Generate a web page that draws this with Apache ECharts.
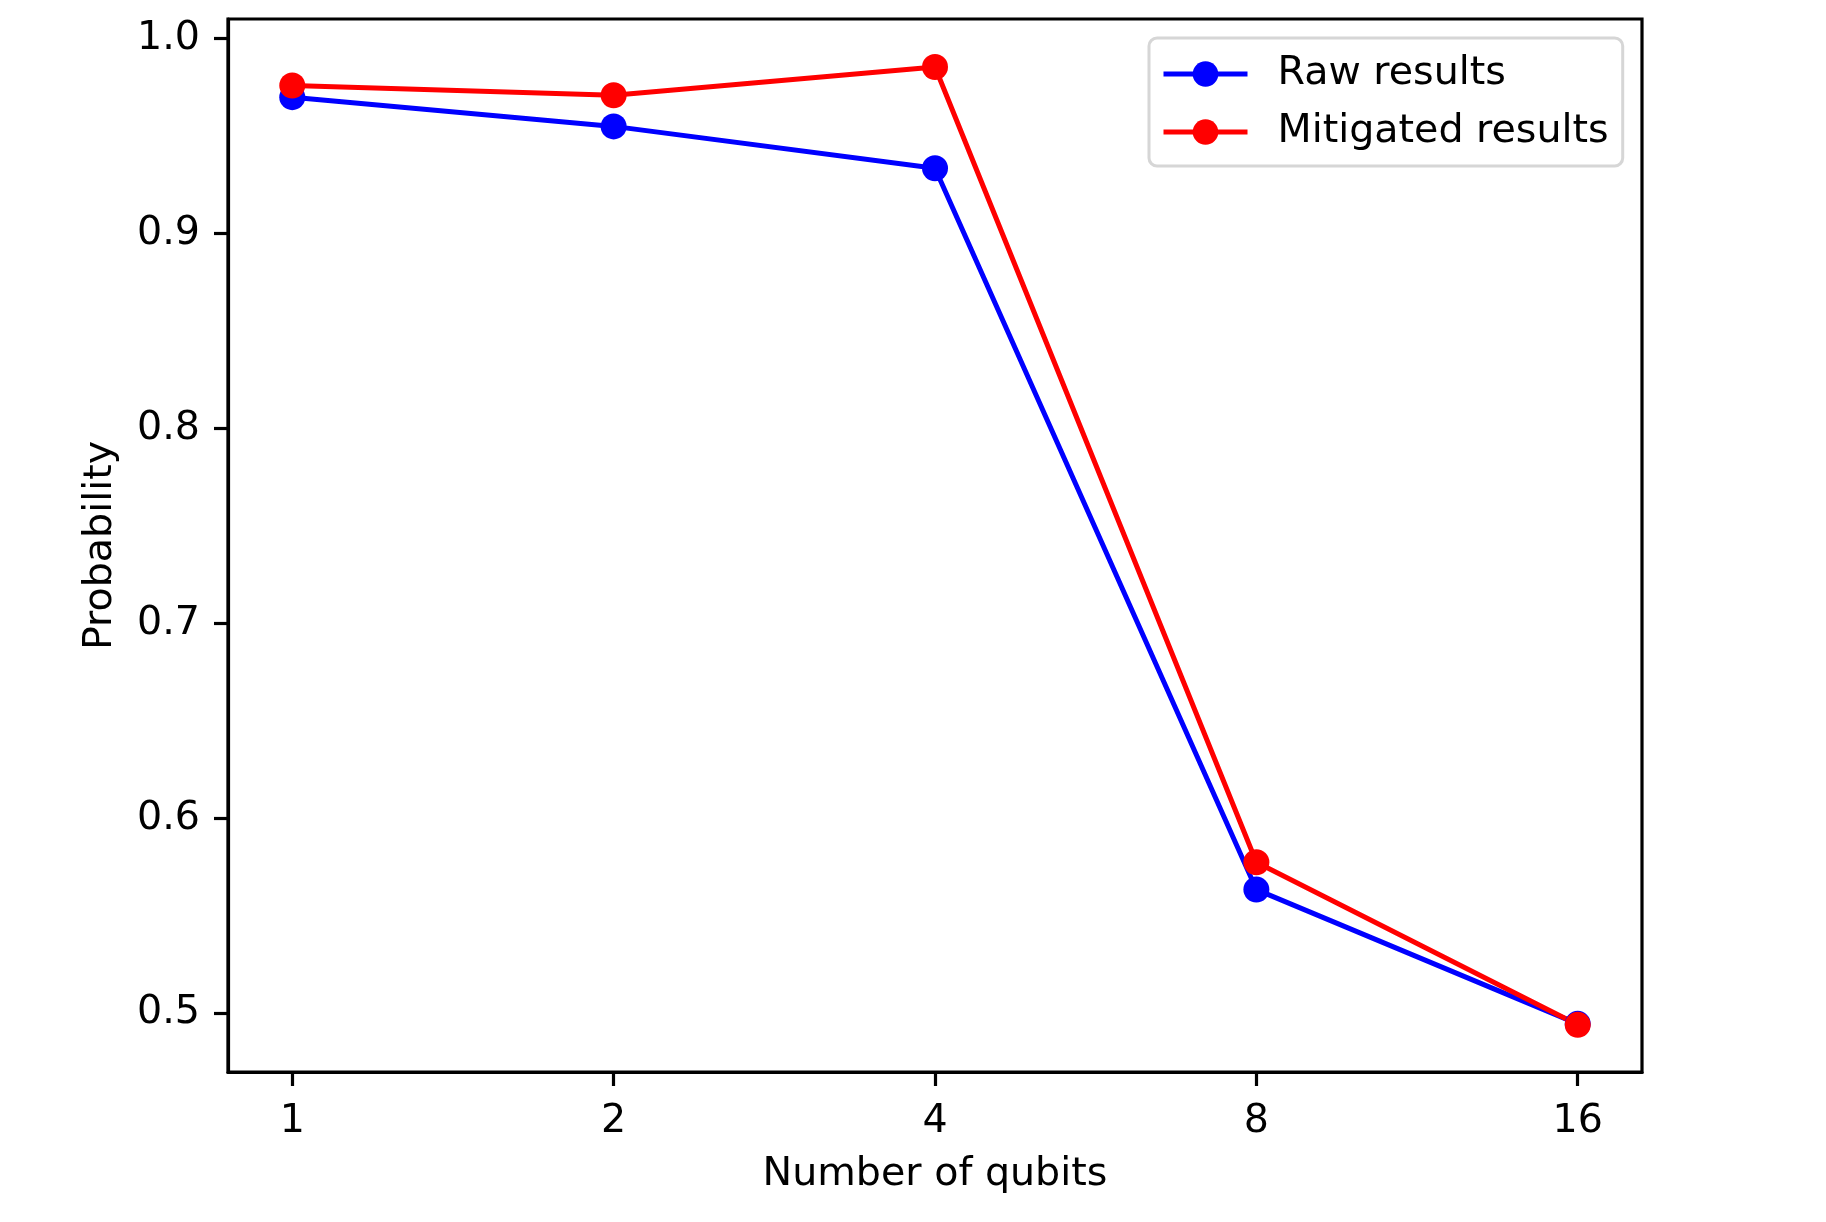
<!DOCTYPE html>
<html>
<head>
<meta charset="utf-8">
<script src="https://cdn.jsdelivr.net/npm/echarts@6/dist/echarts.min.js"></script>
<style>
html,body{margin:0;padding:0;background:#fff;}
#chart{width:1826px;height:1222px;}
</style>
</head>
<body>
<div id="chart"></div>
<script>
const categories = ['1', '2', '4', '8', '16'];
const rawResults = [0.970, 0.955, 0.9335, 0.5634, 0.4945];
const mitigatedResults = [0.976, 0.971, 0.9855, 0.5774, 0.494];
const yTicks = [0.5, 0.6, 0.7, 0.8, 0.9, 1.0];
const seriesNames = ['Raw results', 'Mitigated results'];

const FONT = 'DejaVu Sans';
const FS = 39.6;
const xIdx = categories.map((c, i) => i);
const toPairs = arr => arr.map((v, i) => [i, v]);

const chart = echarts.init(document.getElementById('chart'), null, {renderer: 'canvas'});
chart.setOption({
  animation: false,
  backgroundColor: '#ffffff',
  grid: {
    left: 228, right: 184, top: 19, bottom: 150,
    show: true, borderColor: '#000', borderWidth: 3.2, backgroundColor: 'transparent'
  },
  xAxis: {
    type: 'value',
    min: -0.2, max: 4.2,
    name: 'Number of qubits',
    nameLocation: 'middle',
    nameGap: 83,
    nameTextStyle: {fontFamily: FONT, fontSize: FS, color: '#000'},
    axisLine: {show: true, onZero: false, lineStyle: {color: '#000', width: 3.2}},
    axisTick: {show: true, length: 14, lineStyle: {color: '#000', width: 3.2}, customValues: xIdx},
    axisLabel: {
      fontFamily: FONT, fontSize: FS, color: '#000', margin: 30,
      customValues: xIdx,
      formatter: v => categories[Math.round(v)]
    },
    splitLine: {show: false}
  },
  yAxis: {
    type: 'value',
    min: 0.4698, max: 1.0101,
    name: 'Probability',
    nameLocation: 'middle',
    nameGap: 107,
    nameTextStyle: {fontFamily: FONT, fontSize: FS, color: '#000'},
    axisLine: {show: true, onZero: false, lineStyle: {color: '#000', width: 3.2}},
    axisTick: {show: true, length: 14, lineStyle: {color: '#000', width: 3.2}, customValues: yTicks},
    axisLabel: {
      fontFamily: FONT, fontSize: FS, color: '#000', margin: 28,
      customValues: yTicks,
      formatter: v => v.toFixed(1)
    },
    splitLine: {show: false}
  },
  legend: {
    orient: 'vertical',
    left: 1149, top: 38,
    data: seriesNames,
    backgroundColor: '#fff',
    borderColor: '#d6d6d6',
    borderWidth: 3,
    borderRadius: 8,
    padding: [13, 14, 11, 12],
    itemWidth: 84,
    itemHeight: 32,
    itemGap: 12,
    lineStyle: {width: 5},
    textStyle: {fontFamily: FONT, fontSize: FS, color: '#000', lineHeight: 46, padding: [0, 0, 0, 25]}
  },
  series: [
    {
      name: seriesNames[0], type: 'line', data: toPairs(rawResults),
      symbol: 'circle', symbolSize: 26,
      lineStyle: {color: '#0000ff', width: 5},
      itemStyle: {color: '#0000ff'}
    },
    {
      name: seriesNames[1], type: 'line', data: toPairs(mitigatedResults),
      symbol: 'circle', symbolSize: 26,
      lineStyle: {color: '#ff0000', width: 5},
      itemStyle: {color: '#ff0000'}
    }
  ]
});
</script>
</body>
</html>
